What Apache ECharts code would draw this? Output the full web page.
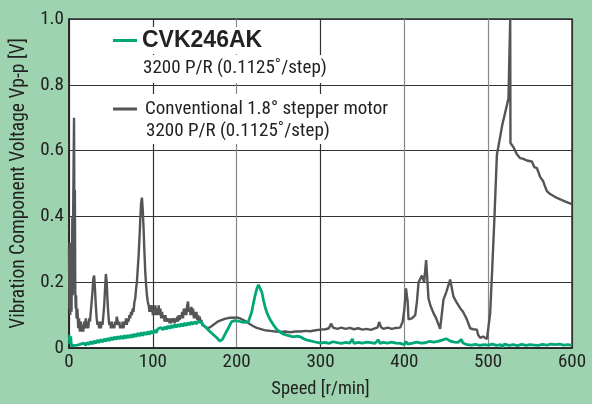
<!DOCTYPE html>
<html>
<head>
<meta charset="utf-8">
<script src="https://cdn.jsdelivr.net/npm/echarts@6/dist/echarts.min.js"></script>
<style>
html,body{margin:0;padding:0;background:#9dd3ae;}
#chart{width:592px;height:404px;}
</style>
</head>
<body>
<div id="chart"></div>
<script>
// ---- data ----
var seriesNames = ['CVK246AK', 'Conventional 1.8° stepper motor'];
var subLabel = '3200 P/R (0.1125˚/step)';
var xTicks = [0, 100, 200, 300, 400, 500, 600];
var yTicks = [0, 0.2, 0.4, 0.6, 0.8, 1.0];
var xName = 'Speed [r/min]';
var yName = 'Vibration Component Voltage Vp-p [V]';

// Conventional stepper motor: [speed r/min, voltage V]
var conventional = [
[0,0.30],[0.5,0.12],[1,0.32],[1.5,0.10],[2,0.28],[2.5,0.14],[3,0.11],[3.5,0.26],[4,0.40],[4.5,0.16],[5,0.42],[5.5,0.56],[6,0.70],[6.5,0.34],[7,0.48],[7.5,0.17],[8,0.12],[8.5,0.16],[9,0.09],[10,0.12],
[11,0.06],[12,0.09],[13,0.05],[14,0.08],[15,0.05],[16,0.07],[17,0.05],[18,0.08],[19,0.06],[20,0.09],[21,0.06],[22,0.08],[23,0.06],[24,0.09],[25,0.08],[26,0.11],[27,0.14],[28,0.17],[29,0.21],[30,0.22],
[31,0.18],[32,0.13],[33,0.09],[34,0.07],[35,0.08],[36,0.06],[37,0.08],[38,0.06],[39,0.08],[40,0.07],[41,0.10],[42,0.13],[43,0.18],[44,0.225],[45,0.20],[46,0.14],[47,0.10],[48,0.07],[49,0.08],[50,0.06],
[51,0.08],[52,0.06],[53,0.07],[54,0.06],[55,0.08],[56,0.07],[57,0.095],[58,0.09],[59,0.07],[60,0.08],[61,0.06],[62,0.07],[63,0.06],[64,0.08],[65,0.06],[66,0.08],[67,0.07],[68,0.09],[69,0.07],[70,0.09],
[71,0.08],[72,0.10],[73,0.09],[74,0.11],[75,0.10],[76,0.12],[77,0.11],[78,0.14],[79,0.15],[80,0.18],[81,0.20],[82,0.24],[83,0.28],[84,0.33],[85,0.39],[86,0.44],[87,0.457],[88,0.42],[89,0.36],[90,0.29],
[91,0.23],[92,0.19],[93,0.16],[94,0.14],[95,0.13],[96,0.11],[97,0.13],[98,0.11],[99,0.13],[100,0.10],[101,0.12],[102,0.10],[103,0.13],[104,0.10],[105,0.12],[106,0.10],[107,0.13],[108,0.10],[109,0.12],[110,0.09],
[111,0.11],[112,0.09],[113,0.10],[114,0.08],[115,0.10],[116,0.08],[117,0.09],[118,0.08],[119,0.09],[120,0.075],[121,0.09],[122,0.075],[123,0.09],[124,0.08],[125,0.09],[126,0.075],[127,0.09],[128,0.08],[129,0.095],[130,0.08],
[131,0.10],[132,0.085],[133,0.10],[134,0.09],[135,0.11],[136,0.09],[137,0.12],[138,0.10],[139,0.12],[140,0.10],[141,0.13],[142,0.141],[143,0.11],[144,0.12],[145,0.10],[146,0.125],[147,0.10],[148,0.12],[149,0.09],[150,0.11],
[151,0.09],[152,0.11],[153,0.085],[154,0.10],[155,0.08],[156,0.095],[157,0.075],[158,0.085],[159,0.07],[160,0.07],[162,0.065],[164,0.06],[166,0.06],[168,0.062],[170,0.066],[172,0.07],[174,0.074],[176,0.078],[178,0.081],[180,0.084],
[184,0.087],[188,0.09],[192,0.092],[196,0.092],[200,0.093],[204,0.09],[208,0.085],[212,0.079],[216,0.072],[220,0.066],[224,0.061],[228,0.058],[232,0.055],[236,0.053],[240,0.052],[246,0.05],[252,0.049],[258,0.05],[264,0.048],[270,0.05],
[276,0.05],[282,0.052],[288,0.051],[294,0.054],[300,0.056],[306,0.057],[310,0.06],[312.6,0.074],[315,0.062],[320,0.058],[325,0.062],[330,0.058],[335,0.061],[340,0.057],[345,0.06],[350,0.056],[355,0.058],[360,0.055],[365,0.06],[368,0.062],
[370,0.079],[372,0.064],[375,0.058],[380,0.062],[385,0.058],[390,0.061],[395,0.062],[398,0.08],[400,0.117],[402,0.181],[404,0.14],[405,0.087],[409,0.09],[413,0.10],[415,0.14],[417,0.20],[419,0.21],[421,0.22],[423.6,0.20],[426,0.267],
[428.8,0.151],[431,0.13],[434.8,0.106],[438,0.09],[442.7,0.058],[446.7,0.147],[450,0.17],[454.7,0.208],[458.6,0.156],[462,0.14],[466.6,0.121],[470,0.11],[474.6,0.087],[478.5,0.06],[482,0.057],[486.5,0.056],[488,0.04],[490.5,0.031],[494,0.035],[498.5,0.027],
[502.4,0.106],[505,0.25],[507.5,0.397],[510.4,0.587],[517,0.68],[524.2,0.758],[526.3,1.0],[526.6,0.623],[530.2,0.61],[534,0.59],[538.2,0.577],[542,0.575],[546,0.57],[552.1,0.567],[555,0.55],[558.1,0.547],[562,0.52],[565.6,0.507],[568,0.49],[570,0.477],
[574,0.468],[578,0.462],[582,0.456],[585.9,0.452],[590,0.447],[595,0.442],[600,0.437]
];

// CVK246AK: [speed r/min, voltage V]
var cvk = [
[0,0.040],[1,0.012],[2,0.035],[3,0.006],[4,0.003],[6,0.008],[8,0.003],[10,0.009],[12,0.004],[14,0.012],[16,0.006],[18,0.015],[20,0.008],[22,0.017],[24,0.010],[26,0.020],[28,0.012],[30,0.022],[32,0.014],[34,0.024],
[36,0.016],[38,0.026],[40,0.018],[42,0.028],[44,0.020],[46,0.030],[48,0.022],[50,0.032],[52,0.024],[54,0.034],[56,0.026],[58,0.035],[60,0.027],[62,0.037],[64,0.028],[66,0.038],[68,0.029],[70,0.039],[72,0.031],[74,0.041],
[76,0.032],[78,0.043],[80,0.034],[82,0.045],[84,0.036],[86,0.047],[88,0.038],[90,0.048],[92,0.040],[94,0.050],[96,0.041],[98,0.052],[100,0.044],[102,0.055],[104,0.046],[106,0.058],[108,0.052],[110,0.062],[112,0.055],[114,0.064],
[116,0.057],[118,0.067],[120,0.059],[122,0.069],[124,0.061],[126,0.071],[128,0.063],[130,0.072],[132,0.065],[134,0.074],[136,0.066],[138,0.076],[140,0.068],[142,0.077],[144,0.070],[146,0.079],[148,0.072],[150,0.080],[152,0.073],[154,0.081],
[156,0.076],[158,0.078],[160,0.070],[162,0.066],[164,0.061],[166,0.055],[168,0.050],[170,0.045],[172,0.041],[174,0.036],[176,0.032],[178,0.027],[180,0.021],[181.4,0.018],[183,0.026],[185,0.036],[188,0.051],[190,0.060],[192,0.070],[194,0.080],
[196,0.086],[198,0.083],[200,0.085],[202,0.082],[204,0.083],[206,0.079],[208,0.081],[210,0.078],[212,0.079],[214,0.080],[216,0.095],[218,0.110],[220,0.136],[222,0.160],[224,0.180],[226,0.192],[228,0.186],[230,0.170],[232,0.145],[234,0.124],
[236,0.108],[238,0.096],[240,0.086],[244,0.070],[248,0.056],[252,0.048],[256,0.042],[260,0.039],[264,0.036],[268,0.034],[272,0.036],[276,0.034],[280,0.028],[284,0.024],[288,0.022],[292,0.019],[296,0.017],[300,0.015],[305,0.017],[310,0.014],
[315,0.019],[320,0.016],[325,0.014],[330,0.017],[335,0.015],[338,0.027],[340,0.014],[345,0.017],[350,0.015],[355,0.018],[360,0.016],[365,0.014],[369,0.025],[371,0.014],[375,0.017],[380,0.015],[385,0.018],[390,0.015],[395,0.014],[400,0.010],
[402,0.020],[404,0.012],[410,0.015],[415,0.018],[420,0.015],[425,0.016],[430,0.020],[435,0.018],[440,0.020],[445,0.024],[450,0.028],[452,0.022],[456,0.020],[460,0.018],[464,0.017],[468,0.026],[470,0.015],[475,0.010],[480,0.009],[485,0.011],
[490,0.008],[495,0.010],[500,0.009],[505,0.012],[510,0.008],[515,0.010],[517,0.002],[519,0.012],[525,0.008],[530,0.010],[535,0.007],[540,0.011],[545,0.008],[550,0.010],[555,0.009],[560,0.008],[565,0.011],[570,0.009],[575,0.012],[580,0.010],
[585,0.012],[590,0.009],[595,0.010],[600,0.008]
];

// ---- chart ----
var FONT = '"Roboto Condensed","Liberation Sans",sans-serif';
var GREEN = '#00a878';
var GRAY = '#555557';
var chart = echarts.init(document.getElementById('chart'), null, {renderer: 'canvas'});
chart.setOption({
  backgroundColor: '#9dd3ae',
  animation: false,
  textStyle: {fontFamily: FONT},
  grid: {left: 69, right: 20, top: 19, bottom: 52, show: true, backgroundColor: '#ffffff', borderColor: '#333', borderWidth: 1.5},
  xAxis: {
    type: 'value', min: xTicks[0], max: xTicks[xTicks.length-1], interval: 100,
    name: xName, nameLocation: 'middle', nameGap: 32,
    nameTextStyle: {fontFamily: FONT, fontSize: 18.5, color: '#222'},
    axisLine: {show: true, lineStyle: {color: '#222', width: 1.5}},
    axisTick: {show: false},
    axisLabel: {fontFamily: FONT, fontSize: 19, color: '#222', margin: 5},
    splitLine: {show: true, lineStyle: {color: ['#333','#333','#888','#333','#888','#888','#333'], width: 1.2}}
  },
  yAxis: {
    type: 'value', min: yTicks[0], max: yTicks[yTicks.length-1], interval: 0.2,
    name: yName, nameLocation: 'middle', nameGap: 27,
    nameTextStyle: {fontFamily: FONT, fontSize: 19.5, color: '#222'},
    axisLine: {show: true, lineStyle: {color: '#222', width: 1.5}},
    axisTick: {show: false},
    axisLabel: {fontFamily: FONT, fontSize: 19, color: '#222', margin: 5,
      formatter: function (v) { return v === 0 ? '0' : v.toFixed(1); }},
    splitLine: {show: true, lineStyle: {color: '#333', width: 1.2}}
  },
  legend: [
    {data: [seriesNames[0]], left: 109, top: 27, orient: 'vertical', padding: [0, 4, 0, 4],
     backgroundColor: '#ffffff', icon: 'rect', itemWidth: 24, itemHeight: 3,
     textStyle: {fontFamily: '"Liberation Sans","DejaVu Sans",sans-serif', fontWeight: 'bold', fontSize: 23, color: '#222', lineHeight: 27}},
    {data: [seriesNames[1]], left: 109, top: 94, orient: 'vertical', padding: [4, 4, 0, 4],
     backgroundColor: '#ffffff', icon: 'rect', itemWidth: 24, itemHeight: 3,
     textStyle: {fontFamily: FONT, fontSize: 19, color: '#222', lineHeight: 22, padding: [0,0,0,3]}}
  ],
  graphic: [
    {type: 'text', left: 139, top: 55, z: 10, style: {text: subLabel, font: '19px ' + FONT, fill: '#222', backgroundColor: '#ffffff', padding: [4, 4, 5, 4]}},
    {type: 'text', left: 142, top: 119, z: 10, style: {text: subLabel, font: '19px ' + FONT, fill: '#222', backgroundColor: '#ffffff', padding: [3, 4, 3, 4]}}
  ],
  series: [
    {name: seriesNames[1], type: 'line', data: conventional, showSymbol: false, clip: true,
     lineStyle: {color: GRAY, width: 2.4}, itemStyle: {color: GRAY}, z: 3},
    {name: seriesNames[0], type: 'line', data: cvk, showSymbol: false, clip: true,
     lineStyle: {color: GREEN, width: 2.8}, itemStyle: {color: GREEN}, z: 4}
  ]
});
</script>
</body>
</html>
